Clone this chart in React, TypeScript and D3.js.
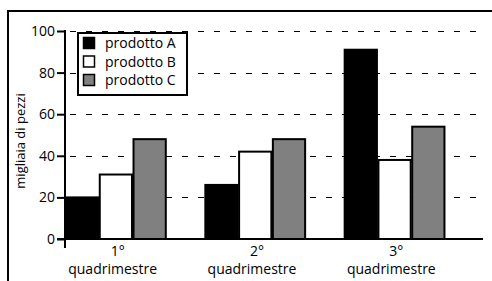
import { useRef, useEffect } from "react";
import * as d3 from "d3";

const categories = ["1°", "2°", "3°"];
const series = ["prodotto A", "prodotto B", "prodotto C"];
const valuesA = [20, 26, 91];
const valuesB = [31, 42, 38];
const valuesC = [48, 48, 54];
const yTicks = [0, 20, 40, 60, 80, 100];
const fills = ["#000000", "#ffffff", "#808080"];

const W = 492;
const H = 281;
const FONT = "'Open Sans', sans-serif";

export default function App() {
  const svgRef = useRef<SVGSVGElement | null>(null);

  useEffect(() => {
    const svg = d3.select(svgRef.current);
    svg.selectAll("*").remove();

    const data = [valuesA, valuesB, valuesC];
    const x0 = 65, x1 = 483, yTop = 31, yBot = 239;

    const x = d3.scaleBand<string>()
      .domain(categories)
      .range([x0, x1])
      .paddingInner(0.273)
      .paddingOuter(0.1365)
      .align(0);
    const xs = d3.scaleBand<string>().domain(series).range([0, x.bandwidth()]);
    const y = d3.scaleLinear().domain([0, 100]).range([yBot, yTop]);

    // frame (left + top only)
    svg.append("line").attr("x1", 8).attr("x2", 8).attr("y1", 10).attr("y2", H)
      .attr("stroke", "#000").attr("stroke-width", 2);
    svg.append("line").attr("x1", 7).attr("x2", W).attr("y1", 11).attr("y2", 11)
      .attr("stroke", "#000").attr("stroke-width", 2);

    // dashed grid
    svg.append("g")
      .selectAll("line")
      .data(yTicks.filter((t) => t > 0))
      .join("line")
      .attr("x1", x0 + 5).attr("x2", x1)
      .attr("y1", (d) => Math.round(y(d)) + 0.5).attr("y2", (d) => Math.round(y(d)) + 0.5)
      .attr("stroke", "#000").attr("stroke-width", 1)
      .attr("stroke-dasharray", "6,10");

    // bars
    const groups = svg.append("g")
      .selectAll("g")
      .data(categories)
      .join("g")
      .attr("transform", (c) => `translate(${x(c)},0)`);

    groups.selectAll("rect")
      .data((_, i) => series.map((s, k) => ({ s, k, v: data[k][i] })))
      .join("rect")
      .attr("x", (d) => xs(d.s)! + 1)
      .attr("width", xs.bandwidth() - 1.5)
      .attr("y", (d) => y(d.v))
      .attr("height", (d) => yBot - y(d.v))
      .attr("fill", (d) => fills[d.k])
      .attr("stroke", "#000")
      .attr("stroke-width", 2);

    // y axis
    const yAxis = svg.append("g")
      .attr("transform", `translate(${x0},0)`)
      .call(d3.axisLeft(y).tickValues(yTicks).tickSize(8).tickPadding(2).tickFormat(d3.format("d")));
    yAxis.select(".domain").remove();
    yAxis.selectAll(".tick line").attr("stroke-width", 2);
    yAxis.selectAll("text").attr("font-family", FONT).attr("font-size", 14).attr("fill", "#000");
    svg.append("line").attr("x1", x0).attr("x2", x0).attr("y1", yTop - 1).attr("y2", yBot + 9)
      .attr("stroke", "#000").attr("stroke-width", 2);

    // x axis
    svg.append("line").attr("x1", x0 - 8).attr("x2", x1).attr("y1", yBot).attr("y2", yBot)
      .attr("stroke", "#000").attr("stroke-width", 2);

    const labels = svg.append("g")
      .selectAll("text")
      .data(categories)
      .join("text")
      .attr("text-anchor", "middle")
      .attr("font-family", FONT)
      .attr("font-size", 14)
      .attr("fill", "#000");
    labels.append("tspan")
      .attr("x", (c) => x(c)! + x.bandwidth() / 2 + 2)
      .attr("y", 256)
      .text((c) => c);
    labels.append("tspan")
      .attr("x", (c) => x(c)! + x.bandwidth() / 2 - 3)
      .attr("y", 274)
      .text("quadrimestre");

    // y title
    svg.append("text")
      .attr("transform", "translate(25,141) rotate(-90)")
      .attr("text-anchor", "middle")
      .attr("font-family", FONT)
      .attr("font-size", 13)
      .text("migliaia di pezzi");

    // legend
    const lg = svg.append("g").attr("transform", "translate(78,33)");
    lg.append("rect").attr("width", 109).attr("height", 62)
      .attr("fill", "#fff").attr("stroke", "#000").attr("stroke-width", 2);
    const rows = lg.selectAll("g.row")
      .data(series)
      .join("g")
      .attr("class", "row")
      .attr("transform", (_, i) => `translate(5,${4 + i * 18.5})`);
    rows.append("rect")
      .attr("x", 0.5).attr("y", 0.5).attr("width", 11).attr("height", 11)
      .attr("fill", (_, i) => fills[i]).attr("stroke", "#000").attr("stroke-width", 1.5);
    rows.append("text")
      .attr("x", 22).attr("y", 11)
      .attr("font-family", FONT).attr("font-size", 14)
      .text((d) => d);
  }, []);

  return (
    <svg ref={svgRef} width={W} height={H}
      style={{ position: "absolute", left: 0, top: 0, display: "block", background: "#fff" }} />
  );
}
